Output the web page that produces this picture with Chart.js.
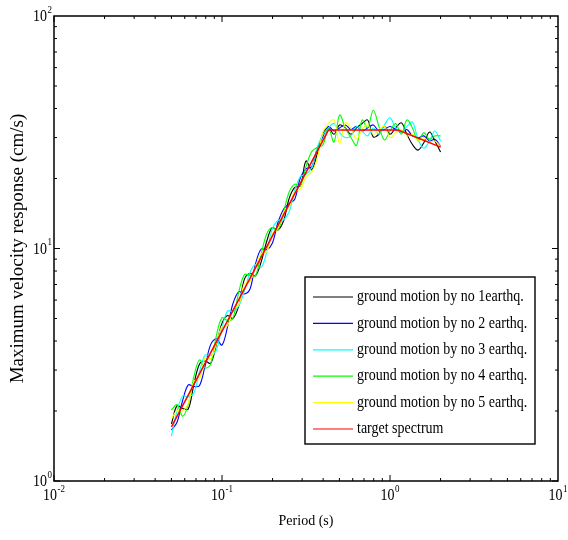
<!DOCTYPE html>
<html>
<head>
<meta charset="utf-8">
<script src="https://cdn.jsdelivr.net/npm/chart.js@4.4.1/dist/chart.umd.min.js"></script>
<style>
  html, body { margin: 0; padding: 0; background: #fff; }
  #wrap { width: 568px; height: 540px; position: relative; }
</style>
</head>
<body>
<div id="wrap"><canvas id="spectrum"></canvas></div>
<script>
// periods (s) shared by the five ground motion records
const periods = [
  0.050, 0.054, 0.0583, 0.063, 0.068, 0.0734, 0.0793, 0.0856, 0.0925, 0.0999,
  0.108, 0.116, 0.126, 0.136, 0.147, 0.158, 0.171, 0.185, 0.199, 0.215,
  0.233, 0.251, 0.271, 0.293, 0.316, 0.342, 0.369, 0.398, 0.430, 0.464,
  0.501, 0.542, 0.585, 0.632, 0.682, 0.736, 0.795, 0.859, 0.927, 1.00,
  1.08, 1.17, 1.26, 1.36, 1.47, 1.59, 1.72, 1.85, 2.00
];

// maximum velocity response (cm/s)
const gm1 = [
  1.76, 2.11, 2.05, 2.04, 2.60, 3.18, 3.28, 3.21, 3.85, 4.76,
  5.15, 5.00, 5.68, 7.38, 7.83, 7.63, 8.75, 10.8, 12.3, 12.0,
  13.2, 16.4, 18.3, 18.6, 23.8, 21.8, 25.6, 31.1, 33.0, 31.0,
  34.0, 33.0, 31.0, 33.0, 34.5, 35.7, 30.2, 31.0, 33.5, 31.0,
  33.0, 34.7, 31.0, 28.0, 26.5, 28.5, 31.7, 29.0, 26.0
];
const gm2 = [
  1.66, 1.79, 2.22, 2.59, 2.55, 2.57, 3.12, 3.86, 4.09, 3.84,
  4.61, 5.77, 6.52, 6.37, 6.71, 8.54, 9.95, 9.89, 10.5, 12.9,
  14.8, 15.6, 16.3, 20.2, 22.0, 22.5, 26.9, 30.2, 33.5, 32.0,
  33.0, 34.0, 32.5, 33.5, 32.0, 33.0, 34.0, 32.0, 32.5, 33.5,
  32.5, 31.5, 32.5, 30.5, 30.0, 30.5, 29.0, 29.5, 27.5
];
const gm3 = [
  1.56, 2.00, 2.32, 2.30, 2.39, 2.95, 3.48, 3.46, 3.65, 4.54,
  5.39, 5.33, 5.68, 6.58, 7.91, 8.54, 8.29, 9.69, 12.1, 13.2,
  13.3, 14.4, 17.8, 20.4, 20.8, 22.3, 27.2, 30.8, 33.0, 34.5,
  31.5, 30.0, 30.5, 33.5, 32.0, 30.5, 33.0, 31.0, 34.0, 36.5,
  33.0, 31.5, 33.5, 35.0, 29.5, 27.0, 29.0, 32.0, 29.0
];
const gm4 = [
  2.02, 2.13, 1.90, 2.14, 2.81, 3.32, 3.06, 3.18, 4.21, 5.03,
  4.90, 5.00, 6.52, 7.72, 7.68, 7.63, 9.49, 11.6, 12.3, 12.0,
  14.4, 17.5, 18.9, 18.6, 22.5, 26.1, 27.2, 27.8, 33.0, 28.7,
  37.5, 33.0, 30.0, 27.8, 35.7, 33.0, 39.3, 33.5, 29.3, 32.0,
  34.5, 31.0, 35.7, 33.0, 29.0, 31.5, 29.5, 30.5, 30.5
];
const gm5 = [
  1.85, 2.01, 2.00, 2.16, 2.68, 2.75, 3.38, 3.36, 3.89, 4.63,
  4.66, 5.44, 5.74, 7.05, 7.24, 8.29, 9.49, 9.69, 11.6, 12.2,
  14.4, 15.1, 17.6, 18.0, 20.3, 21.3, 24.3, 31.6, 34.5, 35.7,
  28.4, 34.7, 33.0, 29.5, 32.5, 34.0, 31.0, 32.5, 33.5, 30.0,
  31.5, 32.5, 30.5, 31.0, 29.0, 30.0, 28.5, 29.0, 27.5
];

// design target spectrum corners
const targetPeriods = [0.05, 0.43, 1.12, 2.0];
const targetValues = [1.71, 32.3, 32.3, 27.3];

const seriesLabels = [
  'ground motion by no 1earthq.',
  'ground motion by no 2 earthq.',
  'ground motion by no 3 earthq.',
  'ground motion by no 4 earthq.',
  'ground motion by no 5 earthq.',
  'target spectrum'
];
const seriesColors = ['#000000', '#0000ff', '#00ffff', '#00ff00', '#ffff00', '#ff0000'];

const xExponents = [-2, -1, 0, 1];
const yExponents = [0, 1, 2];

const SERIF = '"Liberation Serif", "Times New Roman", serif';

function toPoints(xs, ys) {
  return xs.map((x, i) => ({ x: x, y: ys[i] }));
}

// "10" with a raised exponent, squeezed a little taller like the printed figure
function drawPower(ctx, exp, x, y, align) {
  const base = '10';
  const sup = String(exp);
  ctx.font = '14px ' + SERIF;
  const wb = ctx.measureText(base).width;
  ctx.font = '9px ' + SERIF;
  const ws = ctx.measureText(sup).width;
  const total = wb + ws + 0.5;
  let left = x;
  if (align === 'center') left = x - total / 2;
  else if (align === 'right') left = x - total;
  ctx.save();
  ctx.translate(left, y);
  ctx.scale(1, 1.15);
  ctx.textAlign = 'left';
  ctx.textBaseline = 'middle';
  ctx.fillStyle = '#000';
  ctx.font = '14px ' + SERIF;
  ctx.fillText(base, 0, 0);
  ctx.font = '9px ' + SERIF;
  ctx.fillText(sup, wb + 0.5, -6);
  ctx.restore();
}

// box round the axes, inward ticks on all four sides, decade labels
const axesFrame = {
  id: 'axesFrame',
  afterDatasetsDraw(chart) {
    const { ctx, chartArea: a, scales } = chart;
    const xs = scales.x, ys = scales.y;
    ctx.save();
    ctx.strokeStyle = '#000';
    ctx.lineWidth = 1.5;
    ctx.strokeRect(a.left, a.top, a.right - a.left, a.bottom - a.top);

    ctx.lineWidth = 1;
    ctx.beginPath();
    for (let k = -2; k <= 0; k++) {
      for (let m = 1; m <= 9; m++) {
        const px = xs.getPixelForValue(m * Math.pow(10, k));
        const len = m === 1 ? 6 : 3;
        ctx.moveTo(px, a.bottom); ctx.lineTo(px, a.bottom - len);
        ctx.moveTo(px, a.top); ctx.lineTo(px, a.top + len);
      }
    }
    for (let k = 0; k <= 1; k++) {
      for (let m = 1; m <= 9; m++) {
        const py = ys.getPixelForValue(m * Math.pow(10, k));
        const len = m === 1 ? 6 : 3;
        ctx.moveTo(a.left, py); ctx.lineTo(a.left + len, py);
        ctx.moveTo(a.right, py); ctx.lineTo(a.right - len, py);
      }
    }
    ctx.stroke();

    xExponents.forEach(e => {
      drawPower(ctx, e, xs.getPixelForValue(Math.pow(10, e)), a.bottom + 15, 'center');
    });
    yExponents.forEach(e => {
      drawPower(ctx, e, a.left - 2, ys.getPixelForValue(Math.pow(10, e)) + 1, 'right');
    });
    ctx.restore();
  }
};

// boxed legend in the lower right of the axes
const boxLegend = {
  id: 'boxLegend',
  afterDatasetsDraw(chart) {
    const { ctx } = chart;
    const box = { left: 305, top: 277, right: 535, bottom: 444 };
    ctx.save();
    ctx.fillStyle = '#fff';
    ctx.fillRect(box.left, box.top, box.right - box.left, box.bottom - box.top);
    ctx.strokeStyle = '#000';
    ctx.lineWidth = 1.4;
    ctx.strokeRect(box.left, box.top, box.right - box.left, box.bottom - box.top);
    chart.data.datasets.forEach((ds, i) => {
      const cy = box.top + 20 + i * 26.4;
      ctx.strokeStyle = ds.borderColor;
      ctx.lineWidth = 1.2;
      ctx.beginPath();
      ctx.moveTo(box.left + 8, cy);
      ctx.lineTo(box.left + 48, cy);
      ctx.stroke();
      ctx.save();
      ctx.translate(box.left + 52, cy);
      ctx.scale(1, 1.15);
      ctx.fillStyle = '#000';
      ctx.font = '14px ' + SERIF;
      ctx.textAlign = 'left';
      ctx.textBaseline = 'middle';
      ctx.fillText(ds.label, 0, 0);
      ctx.restore();
    });
    ctx.restore();
  }
};

const records = [gm1, gm2, gm3, gm4, gm5];
const datasets = records.map((vals, i) => ({
  label: seriesLabels[i],
  data: toPoints(periods, vals),
  borderColor: seriesColors[i],
  borderWidth: 1.1,
  tension: 0.35,
  order: 5 - i
}));
datasets.push({
  label: seriesLabels[5],
  data: toPoints(targetPeriods, targetValues),
  borderColor: seriesColors[5],
  borderWidth: 1.5,
  tension: 0,
  order: 0
});

new Chart(document.getElementById('spectrum'), {
  type: 'scatter',
  data: { datasets: datasets },
  options: {
    responsive: true,
    maintainAspectRatio: false,
    animation: false,
    showLine: true,
    elements: { point: { radius: 0, hoverRadius: 0 } },
    layout: { padding: { top: 16, right: 10, left: 0, bottom: 0 } },
    plugins: { legend: { display: false }, tooltip: { enabled: false } },
    scales: {
      x: {
        type: 'logarithmic',
        min: 0.01,
        max: 10,
        grid: { display: false },
        border: { display: false },
        ticks: { display: false },
        title: {
          display: true,
          text: 'Period (s)',
          color: '#000',
          font: { family: SERIF, size: 14 },
          padding: { top: 4, bottom: 10 }
        },
        afterFit(scale) { scale.height = 59; }
      },
      y: {
        type: 'logarithmic',
        min: 1,
        max: 100,
        grid: { display: false },
        border: { display: false },
        ticks: { display: false },
        title: {
          display: true,
          text: 'Maximum velocity response (cm/s)',
          color: '#000',
          font: { family: SERIF, size: 19 },
          padding: { top: 7, bottom: 4 }
        },
        afterFit(scale) { scale.width = 54; }
      }
    }
  },
  plugins: [axesFrame, boxLegend]
});
</script>
</body>
</html>
